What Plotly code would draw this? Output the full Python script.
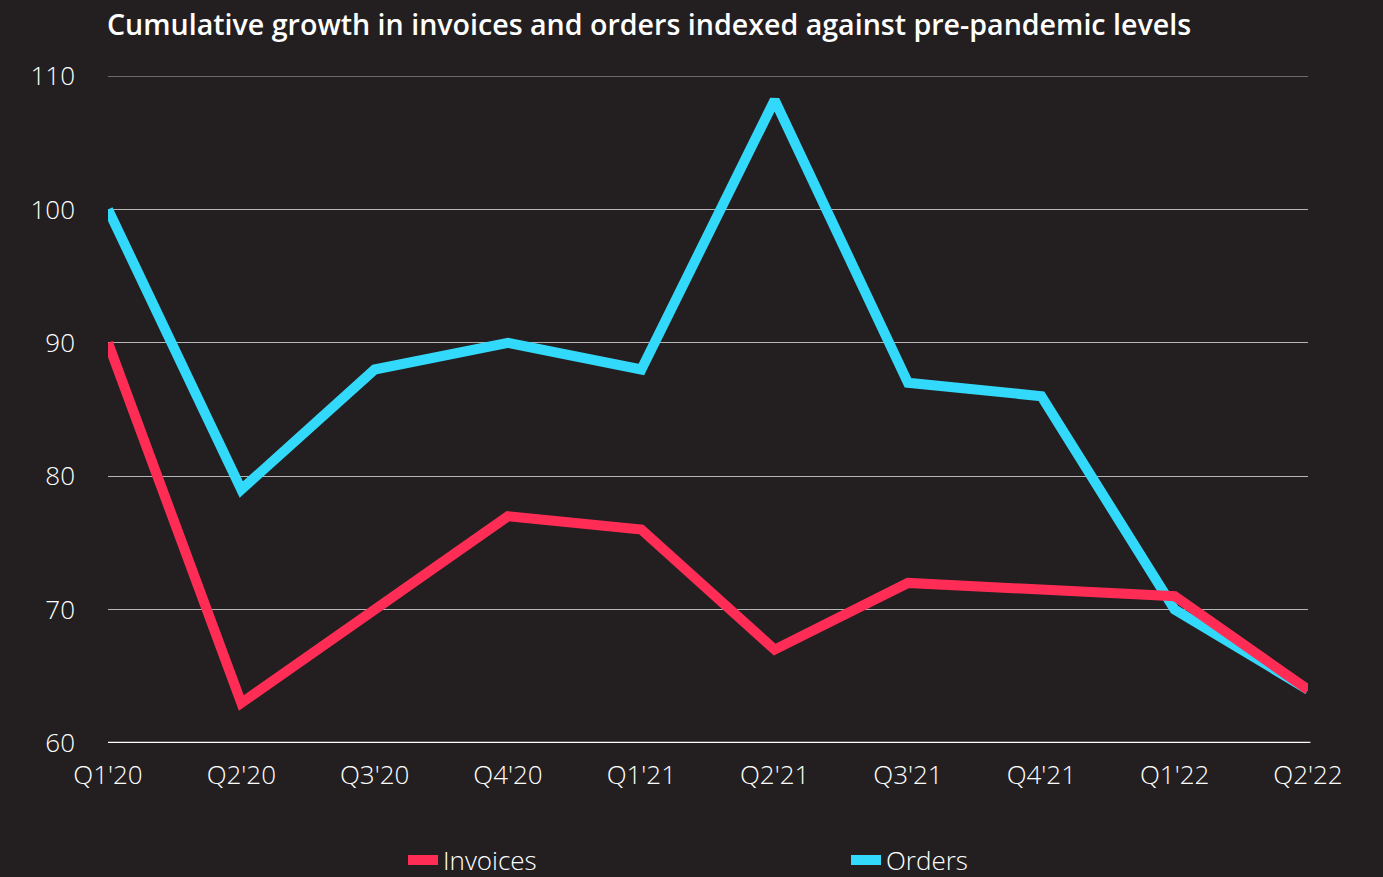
import plotly.graph_objects as go

quarters = ["Q1'20", "Q2'20", "Q3'20", "Q4'20", "Q1'21", "Q2'21", "Q3'21", "Q4'21", "Q1'22", "Q2'22"]
invoices = [90, 63, 70, 77, 76, 67, 72, 71.5, 71, 64]
orders = [100, 79, 88, 90, 88, 108.2, 87, 86, 70, 64]
y_ticks = [60, 70, 80, 90, 100, 110]

BG = "#231f20"
RED = "#ff2d55"
CYAN = "#33d9fa"
GRID = "#b5b5b5"

fig = go.Figure()
fig.add_trace(go.Scatter(x=quarters, y=orders, name="Orders", mode="lines",
                         line=dict(color=CYAN, width=10), legendrank=2))
fig.add_trace(go.Scatter(x=quarters, y=invoices, name="Invoices", mode="lines",
                         line=dict(color=RED, width=10), legendrank=1))

fig.update_layout(
    width=1383, height=877,
    paper_bgcolor=BG, plot_bgcolor=BG,
    margin=dict(l=108, r=75, t=76, b=134),
    font=dict(family="Open Sans", color="white", size=26),
    title=dict(text="Cumulative growth in invoices and orders indexed against pre-pandemic levels",
               xref="container", x=107/1383, xanchor="left",
               yref="container", y=1-25/877, yanchor="middle",
               font=dict(family="Open Sans", size=28.6, color="white", weight=600)),
    showlegend=True,
    legend=dict(orientation="h", xref="container", x=403/1383, xanchor="left",
                yref="container", y=1-860/877, yanchor="middle",
                font=dict(size=26, color="white", weight=300), bgcolor="rgba(0,0,0,0)",
                entrywidth=398, entrywidthmode="pixels"),
)
fig.update_xaxes(showgrid=False, showline=False, ticks="", zeroline=False,
                 range=[0, 9], tickfont=dict(size=26, color="white", weight=300), ticklabelstandoff=14)
fig.update_yaxes(range=[60, 110], tickvals=y_ticks, showgrid=True, gridcolor=GRID, gridwidth=1,
                 zeroline=False, showline=False, ticks="", tickfont=dict(size=26, color="white", weight=300),
                 ticklabelstandoff=32)
fig.add_shape(type="line", xref="paper", yref="y", x0=0, x1=1, y0=110, y1=110,
              line=dict(color=GRID, width=1), layer="below")
fig.add_shape(type="line", xref="paper", yref="y", x0=0, x1=1.002, y0=60, y1=60,
              line=dict(color="white", width=2.5), layer="above")

fig.write_html("out.html", config={"displayModeBar": False},
               post_script="document.body.style.margin='0';document.body.style.background='#231f20';")
